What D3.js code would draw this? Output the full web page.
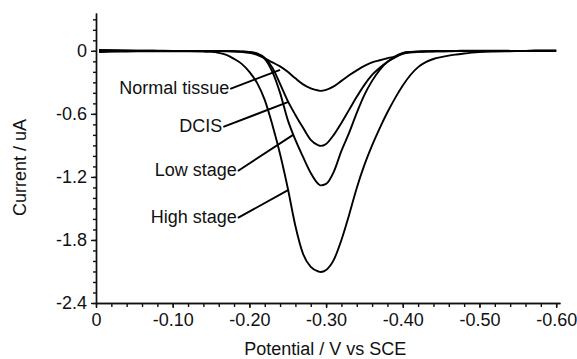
<!DOCTYPE html>
<html>
<head>
<meta charset="utf-8">
<script src="https://cdn.jsdelivr.net/npm/d3@7"></script>
<style>
  body { margin: 0; background: #fff; }
  svg { display: block; font-family: "Liberation Sans", Arial, sans-serif; }
  .axis path, .axis line { stroke: #111; stroke-width: 1.4px; }
  .axis text { font-size: 18px; fill: #111; font-family: "Liberation Sans", Arial, sans-serif; }
  .curve { fill: none; stroke: #000; stroke-width: 1.9px; }
  .leader { stroke: #000; stroke-width: 1.9px; }
  .lbl { font-size: 18px; fill: #111; }
  .axis-title { font-size: 18px; fill: #111; }
</style>
</head>
<body>
<svg id="chart"></svg>
<script>
// potentials (V vs SCE)
const potentials = [-0.004, -0.02, -0.04, -0.06, -0.08, -0.10, -0.12, -0.14, -0.15, -0.16,
  -0.17, -0.18, -0.19, -0.20, -0.21, -0.22, -0.23, -0.24, -0.25, -0.26,
  -0.27, -0.28, -0.29, -0.293, -0.30, -0.31, -0.32, -0.33, -0.34, -0.35,
  -0.36, -0.37, -0.38, -0.39, -0.40, -0.41, -0.42, -0.43, -0.44, -0.45,
  -0.46, -0.47, -0.48, -0.49, -0.50, -0.52, -0.54, -0.56, -0.58, -0.60];

// currents (uA)
const normalTissue = [0.008, 0.005, 0.003, 0.002, 0.001, 0.000, 0.000, -0.001, -0.001, -0.002,
  -0.002, -0.005, -0.010, -0.019, -0.038, -0.071, -0.110, -0.148, -0.200, -0.262,
  -0.319, -0.357, -0.378, -0.381, -0.371, -0.338, -0.286, -0.233, -0.186, -0.143,
  -0.110, -0.090, -0.071, -0.052, -0.019, -0.010, -0.005, -0.003, -0.002, -0.001,
  0.000, 0.000, 0.001, 0.001, 0.001, 0.001, 0.000, 0.000, 0.001, 0.001];

const dcis = [-0.006, -0.004, -0.003, -0.002, -0.002, -0.001, -0.001, -0.002, -0.002, -0.003,
  -0.003, -0.004, -0.006, -0.010, -0.024, -0.067, -0.162, -0.314, -0.476, -0.610,
  -0.733, -0.848, -0.900, -0.905, -0.886, -0.800, -0.686, -0.562, -0.438, -0.324,
  -0.229, -0.162, -0.105, -0.062, -0.029, -0.014, -0.008, -0.006, -0.005, -0.004,
  -0.003, -0.003, -0.002, -0.002, -0.001, -0.001, 0.000, 0.000, 0.001, 0.001];

const lowStage = [0.004, 0.003, 0.002, 0.001, 0.000, 0.000, -0.001, -0.002, -0.002, -0.003,
  -0.004, -0.005, -0.008, -0.014, -0.029, -0.076, -0.200, -0.400, -0.657, -0.848,
  -1.010, -1.162, -1.267, -1.281, -1.267, -1.152, -0.952, -0.781, -0.590, -0.419,
  -0.286, -0.181, -0.105, -0.057, -0.024, -0.014, -0.010, -0.008, -0.006, -0.005,
  -0.004, -0.003, -0.003, -0.002, -0.002, -0.001, 0.000, 0.000, 0.001, 0.001];

const highStage = [-0.012, -0.008, -0.006, -0.005, -0.004, -0.004, -0.005, -0.008, -0.010, -0.019,
  -0.038, -0.076, -0.124, -0.200, -0.305, -0.467, -0.705, -0.981, -1.305, -1.667,
  -1.933, -2.057, -2.100, -2.105, -2.086, -1.990, -1.800, -1.562, -1.305, -1.086,
  -0.900, -0.735, -0.585, -0.450, -0.330, -0.230, -0.155, -0.108, -0.078, -0.060,
  -0.046, -0.035, -0.025, -0.017, -0.011, -0.006, -0.004, -0.002, -0.001, 0.000];

// labels: text, leader start [V, uA], leader end on the curve [V, uA]
const labelNames = ['Normal tissue', 'DCIS', 'Low stage', 'High stage'];
const labelStart = [[-0.175, -0.362], [-0.166, -0.724], [-0.185, -1.143], [-0.185, -1.590]];
const labelEnd = [[-0.240, -0.181], [-0.251, -0.486], [-0.257, -0.800], [-0.251, -1.324]];

const xMajor = [0, -0.1, -0.2, -0.3, -0.4, -0.5, -0.6];
const yMajor = [0, -0.6, -1.2, -1.8, -2.4];

class CurveChart {
  constructor(_config) {
    this.config = {
      parentElement: _config.parentElement,
      containerWidth: _config.containerWidth || 577,
      containerHeight: _config.containerHeight || 359,
      margin: _config.margin || {top: 13, right: 17, bottom: 56, left: 96}
    };
    this.initVis();
  }

  initVis() {
    let vis = this;
    vis.width = vis.config.containerWidth - vis.config.margin.left - vis.config.margin.right;
    vis.height = vis.config.containerHeight - vis.config.margin.top - vis.config.margin.bottom;

    // axis runs a touch past -0.60, like the original
    vis.xScale = d3.scaleLinear().domain([0, -0.605]).range([0, vis.width]);
    vis.yScale = d3.scaleLinear().domain([-2.4, 0.36]).range([vis.height, 0]);

    vis.svg = d3.select(vis.config.parentElement)
      .attr('width', vis.config.containerWidth)
      .attr('height', vis.config.containerHeight);

    vis.chart = vis.svg.append('g')
      .attr('transform', `translate(${vis.config.margin.left},${vis.config.margin.top})`);

    // minor ticks first, then the labelled ones
    const xMinor = d3.range(0, 31).map(i => -i * 0.02);
    const yMinor = d3.range(-24, 4).map(i => i * 0.1);

    vis.chart.append('g')
      .attr('class', 'axis')
      .attr('transform', `translate(0,${vis.height})`)
      .call(d3.axisBottom(vis.xScale).tickValues(xMinor).tickSize(4).tickSizeOuter(0).tickFormat(''));
    vis.chart.append('g')
      .attr('class', 'axis')
      .attr('transform', `translate(0,${vis.height})`)
      .call(d3.axisBottom(vis.xScale).tickValues(xMajor).tickSize(5).tickSizeOuter(0).tickPadding(5)
        .tickFormat(d => d === 0 ? '0' : d.toFixed(2)));

    vis.chart.append('g')
      .attr('class', 'axis')
      .call(d3.axisLeft(vis.yScale).tickValues(yMinor).tickSize(3).tickSizeOuter(0).tickFormat(''));
    vis.chart.append('g')
      .attr('class', 'axis')
      .call(d3.axisLeft(vis.yScale).tickValues(yMajor).tickSize(5).tickSizeOuter(0).tickPadding(4)
        .tickFormat(d => d === 0 ? '0' : d.toFixed(1)));

    vis.chart.append('text')
      .attr('class', 'axis-title')
      .attr('x', vis.xScale(-0.299))
      .attr('y', vis.height + 52)
      .attr('text-anchor', 'middle')
      .text('Potential / V vs SCE');

    vis.chart.append('text')
      .attr('class', 'axis-title')
      .attr('transform', `translate(${-70},${vis.yScale(-1.11)}) rotate(-90)`)
      .attr('text-anchor', 'middle')
      .text('Current / uA');
  }

  updateVis() {
    let vis = this;
    const series = [normalTissue, dcis, lowStage, highStage];
    vis.lines = series.map(vals => potentials.map((p, i) => ({v: p, c: vals[i]})));
    vis.labels = labelNames.map((name, i) => ({name, start: labelStart[i], end: labelEnd[i]}));
    vis.renderVis();
  }

  renderVis() {
    let vis = this;
    const line = d3.line()
      .x(d => vis.xScale(d.v))
      .y(d => vis.yScale(d.c))
      .curve(d3.curveMonotoneX);

    vis.chart.selectAll('.curve')
      .data(vis.lines)
      .join('path')
      .attr('class', 'curve')
      .attr('d', line);

    vis.chart.selectAll('.leader')
      .data(vis.labels)
      .join('line')
      .attr('class', 'leader')
      .attr('x1', d => vis.xScale(d.start[0]))
      .attr('y1', d => vis.yScale(d.start[1]))
      .attr('x2', d => vis.xScale(d.end[0]))
      .attr('y2', d => vis.yScale(d.end[1]));

    vis.chart.selectAll('.lbl')
      .data(vis.labels)
      .join('text')
      .attr('class', 'lbl')
      .attr('x', d => vis.xScale(d.start[0]) - 1)
      .attr('y', d => vis.yScale(d.start[1]) + 5)
      .attr('text-anchor', 'end')
      .text(d => d.name);
  }
}

const chart = new CurveChart({parentElement: '#chart'});
chart.updateVis();
</script>
</body>
</html>
